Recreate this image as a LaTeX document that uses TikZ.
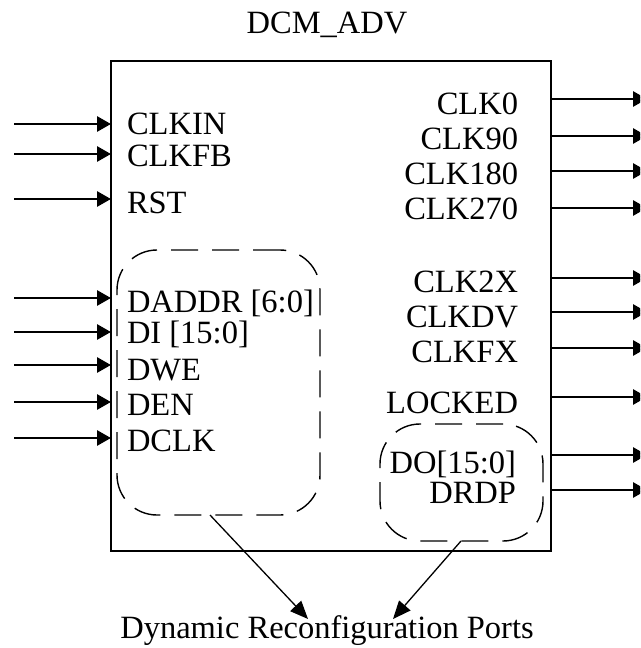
\documentclass[tikz,border=0pt]{standalone}
\usepackage{fontspec}
\setmainfont{Liberation Serif}
\usetikzlibrary{arrows.meta}
\begin{document}
\begin{tikzpicture}[x=1pt,y=-1pt,
  every node/.style={font=\fontsize{32.5}{38}\selectfont, inner sep=0pt, outer sep=0pt},
  port/.style={line width=2.8pt, -{Triangle[length=14pt,width=15pt]}},
  grp/.style={draw, dash pattern=on 27pt off 14pt, line width=1.4pt, rounded corners=40pt},
  pointer/.style={line width=1.3pt, -{Triangle[length=18pt,width=15pt]}},
  lab/.style={anchor=base west},
  rlab/.style={anchor=base east}]
\useasboundingbox (0,0) rectangle (640,648);
\clip (0,0) rectangle (640,648);

% main block
\node[draw, line width=2.8pt, minimum width=440pt, minimum height=490pt, anchor=north west] (dcm) at (111,61) {};
\node[anchor=base] (title) at (327,33) {DCM\_ADV};

% dashed groups
\node[grp, minimum width=203pt, minimum height=265pt, anchor=north west] (grpL) at (117,250) {};
\node[grp, minimum width=163pt, minimum height=117pt, anchor=north west] (grpR) at (380,424) {};

% input labels
\node[lab] (lCLKIN) at (127,134) {CLKIN};
\node[lab] (lCLKFB) at (127,166) {CLKFB};
\node[lab] (lRST) at (127,213) {RST};
\node[lab] (lDADDR) at (127,312) {DADDR [6:0]};
\node[lab] (lDI) at (127,343) {DI [15:0]};
\node[lab] (lDWE) at (127,380) {DWE};
\node[lab] (lDEN) at (127,415) {DEN};
\node[lab] (lDCLK) at (127,451) {DCLK};

% input arrows
\foreach \n/\y in {CLKIN/124, CLKFB/154, RST/199, DADDR/298, DI/332, DWE/365, DEN/402, DCLK/438}{
  \coordinate (i\n) at (14,\y);
  \draw[port] (i\n) -- (i\n -| dcm.west);
}

% output labels
\node[rlab] (rCLK0) at (518,114) {CLK0};
\node[rlab] (rCLK90) at (518,149) {CLK90};
\node[rlab] (rCLK180) at (518,184) {CLK180};
\node[rlab] (rCLK270) at (518,219) {CLK270};
\node[rlab] (rCLK2X) at (518,292) {CLK2X};
\node[rlab] (rCLKDV) at (518,327) {CLKDV};
\node[rlab] (rCLKFX) at (518,362) {CLKFX};
\node[rlab] (rLOCKED) at (518,413) {LOCKED};
\node[rlab] (rDO) at (516,473) {DO[15:0]};
\node[rlab] (rDRDP) at (516,503) {DRDP};

% output arrows
\foreach \n/\y in {CLK0/99, CLK90/136, CLK180/171, CLK270/208, CLK2X/278, CLKDV/312, CLKFX/348, LOCKED/397, DO/455, DRDP/490}{
  \coordinate (o\n) at (647,\y);
  \draw[port] (o\n -| dcm.east) -- (o\n);
}

% dynamic reconfiguration ports
\node[anchor=base] (drp) at (327,638) {Dynamic Reconfiguration Ports};
\coordinate (pLs) at (210,515);
\coordinate (pLe) at (308,619);
\coordinate (pRs) at (461,541);
\coordinate (pRe) at (393,619);
\draw[pointer] (pLs) -- (pLe);
\draw[pointer] (pRs) -- (pRe);
\end{tikzpicture}
\end{document}
